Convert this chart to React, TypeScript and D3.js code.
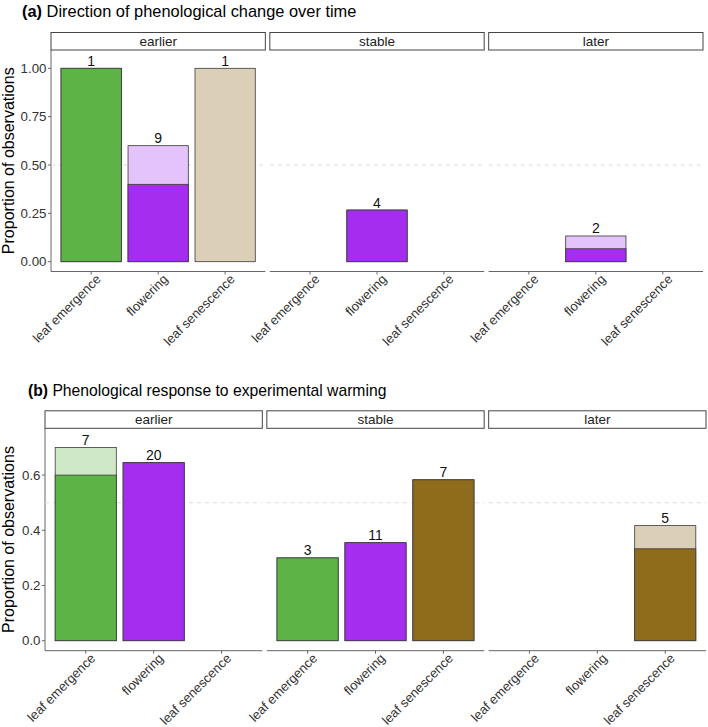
import React from 'react';
import * as d3 from 'd3';

const categories = ['leaf emergence', 'flowering', 'leaf senescence'];
const facets = ['earlier', 'stable', 'later'];

// Panel (a): proportions per facet (earlier, stable, later) per category
const aTotal = [[1.0, 0.6, 1.0], [0, 0.267, 0], [0, 0.133, 0]];
const aDark = [[1.0, 0.4, 0], [0, 0.267, 0], [0, 0.067, 0]];
const aCounts = [[1, 9, 1], [null, 4, null], [null, 2, null]];
const aTicks = [0, 0.25, 0.5, 0.75, 1.0];

// Panel (b)
const bTotal = [[0.7, 0.645, 0], [0.3, 0.355, 0.583], [0, 0, 0.417]];
const bDark = [[0.6, 0.645, 0], [0.3, 0.355, 0.583], [0, 0, 0.333]];
const bCounts = [[7, 20, null], [3, 11, 7], [null, null, 5]];
const bTicks = [0, 0.2, 0.4, 0.6];

const darkColors = ['#5db346', '#a42df0', '#8f6b1c'];
const lightColors = ['#cfe8c8', '#e3c3fa', '#dccfb7'];

const FONT = '"Liberation Sans", Arial, Helvetica, sans-serif';

type PanelProps = {
  title: string;
  tag: string;
  titleX: number;
  titleY: number;
  titleSize: number;
  x0: number;
  x1: number;
  top: number;
  bottom: number;
  yZeroPx: number;
  yOnePx: number;
  total: number[][];
  dark: number[][];
  counts: (number | null)[][];
  ticks: number[];
  fmt: string;
};

function Panel(p: PanelProps) {
  const gap = 4.5;
  const pw = (p.x1 - p.x0 - 2 * gap) / 3;
  const y = d3.scaleLinear().domain([0, 1]).range([p.yZeroPx, p.yOnePx]);
  const f = d3.format(p.fmt);
  const stripH = 17.5;
  return (
    <g>
      <text x={p.titleX} y={p.titleY} fontFamily={FONT} fontSize={p.titleSize} fill="#000">
        <tspan fontWeight="bold">{p.tag}</tspan>
        <tspan> {p.title}</tspan>
      </text>
      <text
        transform={`translate(14,${(p.top + p.bottom) / 2}) rotate(-90)`}
        textAnchor="middle"
        fontFamily={FONT}
        fontSize={16}
        fill="#000"
      >
        Proportion of observations
      </text>
      {/* y axis */}
      <line x1={p.x0} x2={p.x0} y1={p.top} y2={p.bottom} stroke="#666" strokeWidth={1} />
      {p.ticks.map((t) => (
        <g key={t}>
          <line x1={p.x0 - 3} x2={p.x0} y1={y(t)} y2={y(t)} stroke="#666" strokeWidth={1} />
          <text
            x={p.x0 - 4.5}
            y={y(t)}
            dy="0.35em"
            textAnchor="end"
            fontFamily={FONT}
            fontSize={13.3}
            fill="#333"
          >
            {f(t)}
          </text>
        </g>
      ))}
      {facets.map((fc, fi) => {
        const px0 = p.x0 + fi * (pw + gap);
        const px1 = px0 + pw;
        const unit = pw / 3.2;
        const cx = (i: number) => px0 + unit * (0.6 + i);
        const bw = unit * 0.9;
        return (
          <g key={fc}>
            <rect
              x={px0}
              y={p.top - stripH}
              width={pw}
              height={stripH}
              fill="#fff"
              stroke="#444"
              strokeWidth={1}
            />
            <text
              x={(px0 + px1) / 2}
              y={p.top - stripH / 2}
              dy="0.35em"
              textAnchor="middle"
              fontFamily={FONT}
              fontSize={13.5}
              fill="#222"
            >
              {fc}
            </text>
            <line
              x1={px0}
              x2={px1}
              y1={y(0.5)}
              y2={y(0.5)}
              stroke="#dcdcdc"
              strokeWidth={1}
              strokeDasharray="4,4"
            />
            {categories.map((c, ci) => {
              const tot = p.total[fi][ci];
              const dk = p.dark[fi][ci];
              const cnt = p.counts[fi][ci];
              const bx = cx(ci) - bw / 2;
              return (
                <g key={c}>
                  {tot > 0 && (
                    <rect
                      x={bx}
                      y={y(tot)}
                      width={bw}
                      height={y(0) - y(tot)}
                      fill={lightColors[ci]}
                      stroke="#3a3a3a"
                      strokeWidth={0.8}
                    />
                  )}
                  {dk > 0 && (
                    <rect
                      x={bx}
                      y={y(dk)}
                      width={bw}
                      height={y(0) - y(dk)}
                      fill={darkColors[ci]}
                      stroke="#3a3a3a"
                      strokeWidth={0.8}
                    />
                  )}
                  {cnt !== null && (
                    <text
                      x={cx(ci)}
                      y={y(tot) - 2.5}
                      textAnchor="middle"
                      fontFamily={FONT}
                      fontSize={14}
                      fill="#111"
                    >
                      {cnt}
                    </text>
                  )}
                </g>
              );
            })}
            <line x1={px0} x2={px1} y1={p.bottom} y2={p.bottom} stroke="#666" strokeWidth={1} />
            {categories.map((c, ci) => (
              <g key={c}>
                <line
                  x1={cx(ci)}
                  x2={cx(ci)}
                  y1={p.bottom}
                  y2={p.bottom + 3}
                  stroke="#666"
                  strokeWidth={1}
                />
                <text
                  transform={`translate(${cx(ci) + 4},${p.bottom + 2}) rotate(-45)`}
                  textAnchor="end"
                  dy="0.7em"
                  fontFamily={FONT}
                  fontSize={13}
                  fill="#333"
                >
                  {c}
                </text>
              </g>
            ))}
          </g>
        );
      })}
    </g>
  );
}

export default function App() {
  return (
    <svg width={708} height={727} style={{ position: 'absolute', left: 0, top: 0, background: '#fff' }}>
      <rect width={708} height={727} fill="#fff" />
      <Panel
        tag="(a)"
        title="Direction of phenological change over time"
        titleX={22}
        titleY={17}
        titleSize={16.4}
        x0={51}
        x1={703}
        top={50}
        bottom={271.5}
        yZeroPx={261.7}
        yOnePx={68.3}
        total={aTotal}
        dark={aDark}
        counts={aCounts}
        ticks={aTicks}
        fmt=".2f"
      />
      <Panel
        tag="(b)"
        title="Phenological response to experimental warming"
        titleX={28}
        titleY={396}
        titleSize={15.7}
        x0={45}
        x1={706}
        top={428.3}
        bottom={650.7}
        yZeroPx={640.7}
        yOnePx={640.7 - 276}
        total={bTotal}
        dark={bDark}
        counts={bCounts}
        ticks={bTicks}
        fmt=".1f"
      />
    </svg>
  );
}
